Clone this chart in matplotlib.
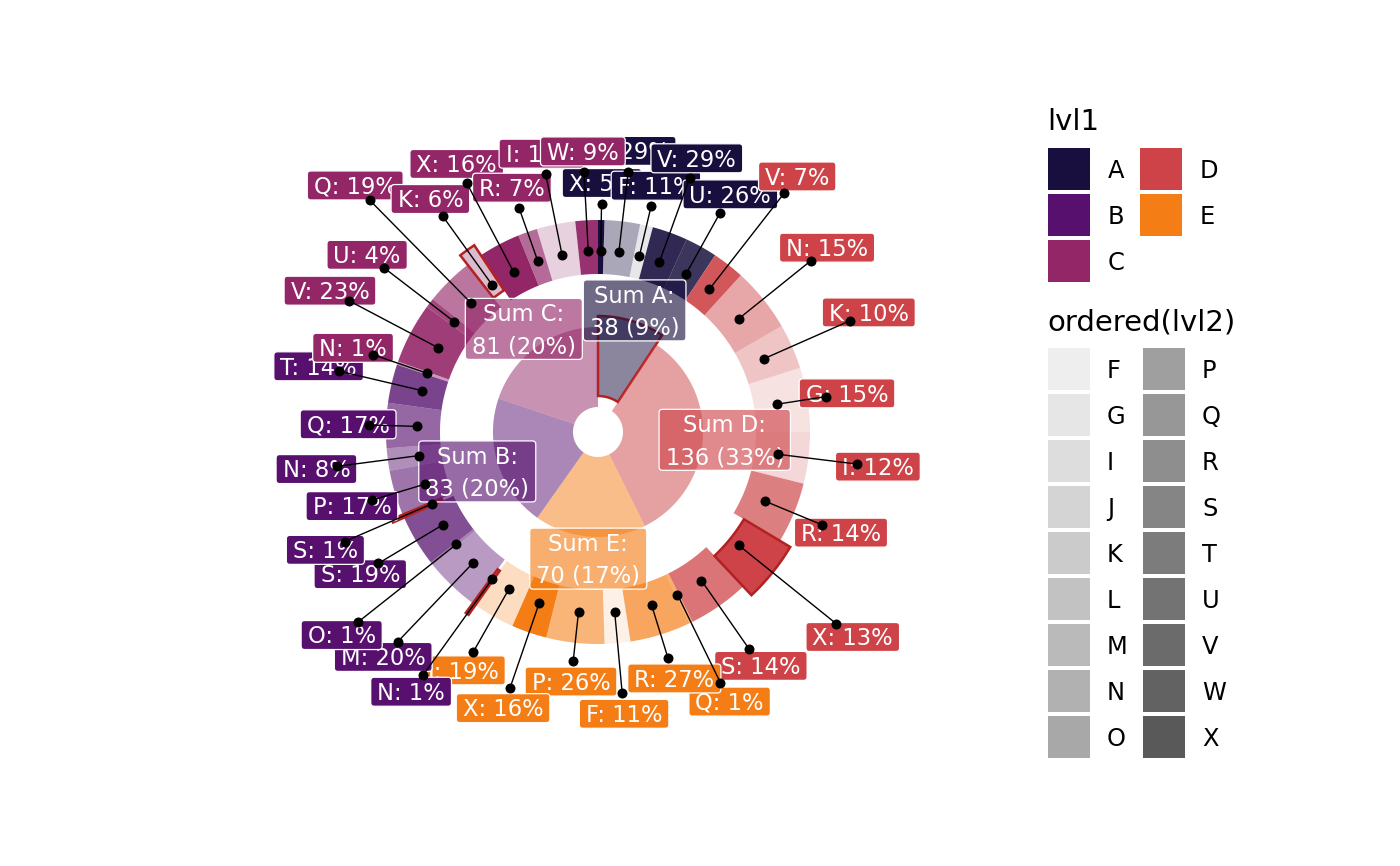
import numpy as np
import matplotlib
matplotlib.use("Agg")
import matplotlib.pyplot as plt
from matplotlib.patches import Polygon, FancyBboxPatch, Rectangle
from matplotlib.colors import to_rgb, to_rgba

# ---------------- data ----------------
groups = ["A", "D", "E", "B", "C"]            # clockwise from 12 o'clock
legend_groups = ["A", "B", "C", "D", "E"]
group_colors = {"A": "#180f3e", "B": "#57106e", "C": "#932667",
                "D": "#cd4347", "E": "#f57d15"}
lvl2_levels = ["F", "G", "I", "J", "K", "L", "M", "N", "O",
               "P", "Q", "R", "S", "T", "U", "V", "W", "X"]

A_lvl2 = ["X", "L", "F", "V", "U"]
A_count = [2, 11, 4, 11, 10]
D_lvl2 = ["V", "N", "K", "G", "I", "R", "X", "S"]
D_count = [10, 20, 14, 20, 16, 19, 18, 19]
E_lvl2 = ["Q", "R", "F", "P", "X", "J"]
E_count = [1, 19, 8, 18, 11, 13]
B_lvl2 = ["N", "M", "O", "S", "S", "P", "N", "Q", "T"]
B_count = [1, 17, 1, 16, 1, 14, 7, 14, 12]
C_lvl2 = ["N", "V", "U", "Q", "K", "X", "R", "I", "W"]
C_count = [1, 19, 3, 15, 5, 13, 6, 12, 7]

pie_focus = ["A"]
A_focus = [0, 0, 0, 0, 0]
D_focus = [0, 0, 0, 0, 0, 0, 1, 0]
E_focus = [0, 0, 0, 0, 0, 0]
B_focus = [1, 0, 0, 0, 1, 0, 0, 0, 0]
C_focus = [0, 0, 0, 0, 1, 0, 0, 0, 0]

# label anchor distances from centre (layout, px)
A_lab_r = [228, 262, 232, 270, 251]
D_lab_r = [303, 273, 275, 231, 261, 242, 306, 264]
E_lab_r = [279, 237, 262, 230, 271, 253]
B_lab_r = [299, 290, 306, 256, 276, 236, 263, 229, 266]
C_lab_r = [238, 282, 270, 325, 266, 282, 238, 263, 260]

sub = {"A": (A_lvl2, A_count, A_focus, A_lab_r),
       "D": (D_lvl2, D_count, D_focus, D_lab_r),
       "E": (E_lvl2, E_count, E_focus, E_lab_r),
       "B": (B_lvl2, B_count, B_focus, B_lab_r),
       "C": (C_lvl2, C_count, C_focus, C_lab_r)}

# ---------------- layout ----------------
W, H = 1400, 866
cx, cy = 598, 432
R_HOLE, R_PIE = 25, 105
R_RING0, R_RING1 = 158, 212
R_DOT = 181
R_SUM = 127
EXPLODE_PIE = 11
EXPLODE_RING = 12
LABEL_GAP = 21
FS = 16.3
PIE_ALPHA = 0.5
SUM_ALPHA = 0.62
FOCUS_COLOR = "#b22222"

alpha_of = {lv: 0.1 + 0.9 * i / (len(lvl2_levels) - 1) for i, lv in enumerate(lvl2_levels)}

fig = plt.figure(figsize=(W / 100, H / 100), dpi=100)
ax = fig.add_axes([0, 0, 1, 1])
ax.set_xlim(0, W)
ax.set_ylim(H, 0)
ax.set_aspect("equal")
ax.axis("off")
renderer = fig.canvas.get_renderer()


def pt(r, t):
    a = np.deg2rad(t)
    return cx + r * np.sin(a), cy - r * np.cos(a)


def sector(r0, r1, t0, t1):
    n = max(int(abs(t1 - t0) / 0.5) + 2, 2)
    ts = np.deg2rad(np.linspace(t0, t1, n))
    outer = np.c_[cx + r1 * np.sin(ts), cy - r1 * np.cos(ts)]
    inner = np.c_[cx + r0 * np.sin(ts[::-1]), cy - r0 * np.cos(ts[::-1])]
    return np.vstack([outer, inner])


label_counter = [0]


def draw_label(xc, yc, lines, fc, alpha):
    k = label_counter[0]
    label_counter[0] += 1
    z = 10 + 0.02 * k
    cap = 0.73 * FS * 100 / 72
    gap = 32
    n = len(lines)
    widths = []
    for i, s in enumerate(lines):
        yb = yc + cap / 2 + (i - (n - 1) / 2) * gap
        t = ax.text(xc, yb, s, ha="center", va="baseline", color="white",
                    fontsize=FS, zorder=z + 0.01)
        widths.append(t.get_window_extent(renderer).width)
    w = max(widths) + 13
    h = 29 + (n - 1) * gap
    ax.add_patch(FancyBboxPatch((xc - w / 2, yc - h / 2), w, h,
                                boxstyle="round,pad=0,rounding_size=3.5",
                                fc=to_rgba(fc, alpha), ec="white", lw=0.9,
                                zorder=z))


total = sum(sum(sub[g][1]) for g in groups)
seg_lines = []
dots = []

start = 0.0
for g in groups:
    lv2, cnt, foc, labr = sub[g]
    gtot = sum(cnt)
    span = 360.0 * gtot / total
    t0, t1 = start, start + span
    col = group_colors[g]
    # inner pie
    off = EXPLODE_PIE if g in pie_focus else 0
    ax.add_patch(Polygon(sector(R_HOLE + off, R_PIE + off, t0, t1), closed=True,
                         fc=to_rgba(col, PIE_ALPHA),
                         ec=FOCUS_COLOR if g in pie_focus else "none",
                         lw=1.8 if g in pie_focus else 0, zorder=1))
    # outer ring
    s = t0
    for lv, c, f, rl in zip(lv2, cnt, foc, labr):
        e = s + span * c / gtot
        off = EXPLODE_RING if f else 0
        ax.add_patch(Polygon(sector(R_RING0 + off, R_RING1 + off, s, e), closed=True,
                             fc=to_rgba(col, alpha_of[lv]),
                             ec=FOCUS_COLOR if f else "none",
                             lw=1.8 if f else 0, zorder=3 if f else 2))
        m = (s + e) / 2
        p0 = pt(R_DOT, m)
        p1 = pt(rl, m)
        seg_lines.append((p0, p1))
        dots += [p0, p1]
        lx, ly = pt(rl + LABEL_GAP, m)
        pct = int(np.floor(100 * c / gtot + 0.5))
        draw_label(lx, ly, [f"{lv}: {pct}%"], col, 1.0)
        s = e
    start = t1

# sum labels
start = 0.0
for g in groups:
    gtot = sum(sub[g][1])
    span = 360.0 * gtot / total
    m = start + span / 2
    x, y = pt(R_SUM, m)
    pct = int(np.floor(100 * gtot / total + 0.5))
    draw_label(x, y, [f"Sum {g}:", f"{gtot} ({pct}%)"], group_colors[g], SUM_ALPHA)
    start += span

for (p0, p1) in seg_lines:
    ax.plot([p0[0], p1[0]], [p0[1], p1[1]], color="black", lw=1.0, zorder=20)
dx = [d[0] for d in dots]
dy = [d[1] for d in dots]
ax.plot(dx, dy, "o", color="black", ms=7.2, mec="none", zorder=21)

# ---------------- legends ----------------
LFS = 17.4
TFS = 21.0
KEY = 42
PITCH = 46
lcap = 0.73 * LFS * 100 / 72

ax.text(1047, 130, "lvl1", fontsize=TFS, ha="left", va="baseline", color="black")
for i, g in enumerate(legend_groups):
    col_i, row_i = divmod(i, 3)
    kx = 1048 + col_i * 92
    ky = 148 + row_i * PITCH
    ax.add_patch(Rectangle((kx, ky), KEY, KEY, fc=group_colors[g], ec="none", zorder=5))
    ax.text(kx + 60, ky + KEY / 2 + lcap / 2, g, fontsize=LFS, ha="left",
            va="baseline", color="black")

ax.text(1047, 330, "ordered(lvl2)", fontsize=TFS, ha="left", va="baseline", color="black")
grey = np.array(to_rgb("#595959"))
for i, lv in enumerate(lvl2_levels):
    col_i, row_i = divmod(i, 9)
    kx = 1048 + col_i * 95
    ky = 348 + row_i * PITCH
    a = alpha_of[lv]
    fc = 1 - a * (1 - grey)
    ax.add_patch(Rectangle((kx, ky), KEY, KEY, fc=fc, ec="none", zorder=5))
    ax.text(kx + 59, ky + KEY / 2 + lcap / 2, lv, fontsize=LFS, ha="left",
            va="baseline", color="black")

fig.savefig("out.png", dpi=100, facecolor="white")
